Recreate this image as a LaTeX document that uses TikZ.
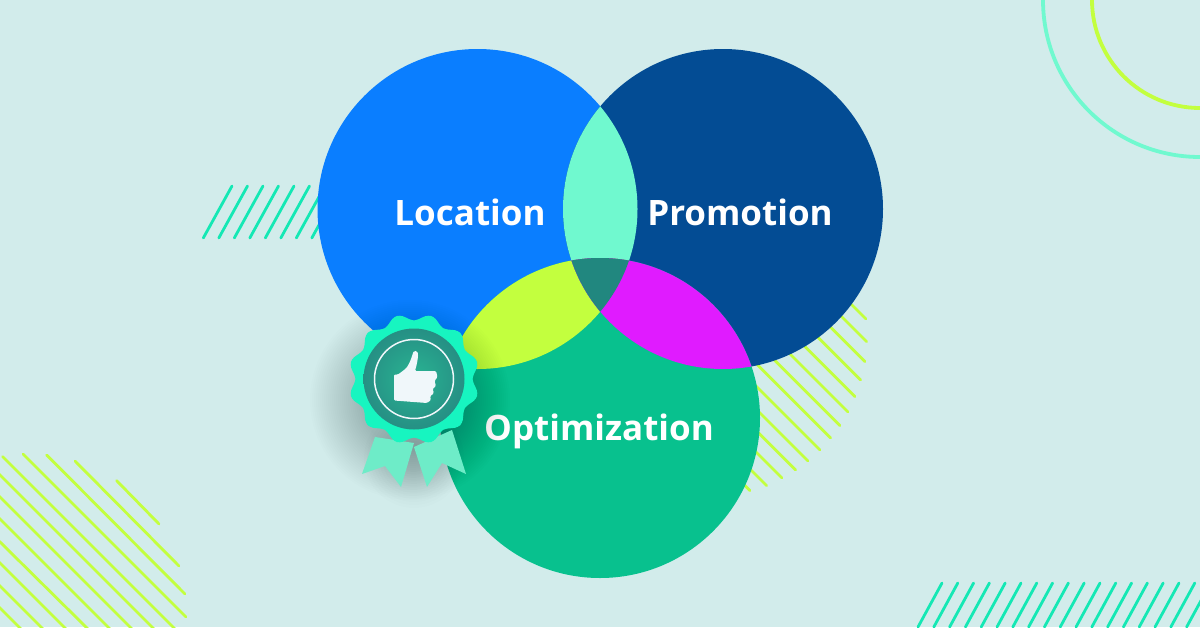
\documentclass[tikz,border=0pt]{standalone}
\usepackage{fontspec}
\setmainfont{Open Sans}
\usetikzlibrary{positioning}
\definecolor{bgmint}{HTML}{D2ECEB}
\definecolor{locblue}{HTML}{0A7EFF}
\definecolor{promnavy}{HTML}{034C94}
\definecolor{optgreen}{HTML}{08C18E}
\definecolor{lensmint}{HTML}{70F9CF}
\definecolor{lenslime}{HTML}{C3FF3E}
\definecolor{lensmagenta}{HTML}{E01BFF}
\definecolor{lensdark}{HTML}{21877F}
\definecolor{hatchteal}{HTML}{14E8B4}
\definecolor{sealmint}{HTML}{17F5C0}
\definecolor{sealdark}{HTML}{268F84}
\definecolor{sealmid}{HTML}{29B593}
\definecolor{tailmint}{HTML}{6EECC8}
\definecolor{thumbwhite}{HTML}{F0F7FA}

\begin{document}
\begin{tikzpicture}[x=1pt,y=-1pt]
\tikzset{circlelabel/.style={text=white,font=\fontsize{35}{35}\selectfont\bfseries,inner sep=0pt}}
\tikzset{hatchline/.style={line width=2.8pt,line cap=round}}
\clip (0,0) rectangle (1200,627);
\fill[bgmint] (0,0) rectangle (1200,627);
% corner arcs
\coordinate (corner) at (1200,0);
\draw[lensmint,line width=3.8pt] (corner) circle (157pt);
\draw[lenslime,line width=3.8pt] (corner) circle (108pt);
% hatching
\foreach \i in {0,...,7}
  \draw[hatchline,hatchteal] (203.3+15.5*\i,238) -- (232+15.5*\i,186);
\foreach \i in {0,...,18}
  \draw[hatchline,hatchteal] (918+15.8*\i,627) -- (942+15.8*\i,583);
\foreach \xa/\ya/\xb/\yb in {116.7/480.7/159/524,75/461/179/566,46.7/455/185/594,23/454/186/617,2.7/456.7/175/629,-2/473/154/629,-2/495/132/629,-2/517/110/629,-2/540/88/629,-2/561/66/629,-2/584/43/629,-2/606/21/629}
  \draw[hatchline,lenslime] (\xa,\ya) -- (\xb,\yb);
\foreach \xb/\yb in {866/319,866.7/341.7,865/361.7,860.7/380,855/396.7,848/412,840/425.7,830.7/438,820/450,808/461,795.7/470,782/478,766.7/485.7,750/490.7}
  \draw[hatchline,lenslime] (\xb-100,\yb-100) -- (\xb,\yb);
% the three circles
\coordinate (loc) at (477.5,209);
\coordinate (prom) at (723,209);
\coordinate (opt) at (600,418);
\fill[locblue] (loc) circle (160pt);
\fill[promnavy] (prom) circle (160pt);
\fill[optgreen] (opt) circle (160pt);
% overlaps
\begin{scope}
\clip (loc) circle (160pt);
\fill[lensmint] (prom) circle (160pt);
\fill[lenslime] (opt) circle (160pt);
\clip (prom) circle (160pt);
\fill[lensdark] (opt) circle (160pt);
\end{scope}
\begin{scope}
\clip (prom) circle (160pt);
\clip (opt) circle (160pt);
\fill[lensmagenta] (prom) circle (160pt);
\clip (loc) circle (160pt);
\fill[lensdark] (opt) circle (160pt);
\end{scope}
% labels
\node[circlelabel] (location) at (470,212) {Location};
\node[circlelabel] (promotion) at (740,212) {Promotion};
\node[circlelabel] (optimization) at (599,431) {Optimization};
% soft shadow of the badge
\foreach \r in {50,52,...,100}
  \fill[black,opacity=0.007] (410,400) circle (\r pt);
\foreach \r in {14,17,...,50}
  \fill[black,opacity=0.007] (414,458) circle (\r pt);
% ribbon
\fill[tailmint] (375,437) -- (362,474) -- (385,466) -- (401,487) -- (414,443) -- cycle;
\fill[tailmint] (414,447) -- (427,487) -- (442,463) -- (466,474) -- (452,430) -- cycle;
% seal
\coordinate (seal) at (414,379);
\fill[sealmint,shift={(seal)}] plot[smooth cycle,domain=0:355,samples=72] (\x:{62+3.4*cos(12*(\x-15))});
\shade[inner color=sealmid,outer color=sealdark] (seal) circle (50.5pt);
\draw[thumbwhite,line width=1.5pt] (seal) circle (39.5pt);
% thumb
\fill[thumbwhite,rounded corners=1.2pt] (394,374.5) -- (394,400.5) -- (427,403) -- (431,400) -- (430,396.5) -- (434,393) -- (432.5,389) -- (436,386) -- (434.5,381) -- (437.5,377) -- (436,371) -- (415,371)
  .. controls (417,364) and (418,358) .. (418,354) .. controls (417.5,350.5) and (414,350.5) .. (413,353) .. controls (411,360) and (408,367) .. (404,370) -- (398,374.5) -- cycle;
\end{tikzpicture}
\end{document}
